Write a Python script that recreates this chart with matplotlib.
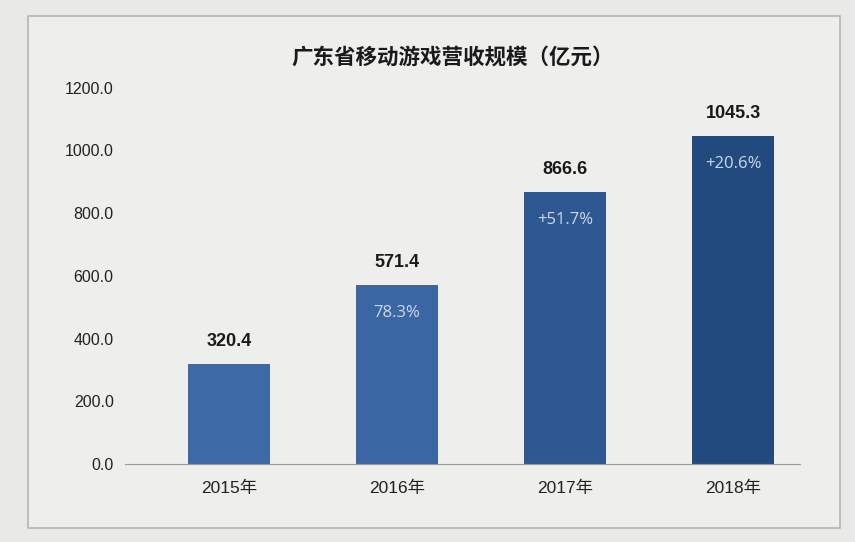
import numpy as np
import matplotlib.pyplot as plt
from matplotlib.patches import Rectangle

plt.rcParams['font.family'] = ['Liberation Sans', 'Noto Sans CJK SC', 'DejaVu Sans']
plt.rcParams['axes.unicode_minus'] = False

years = ['2015年', '2016年', '2017年', '2018年']
revenue = [320.4, 571.4, 866.6, 1045.3]
growth = ['', '78.3%', '+51.7%', '+20.6%']
bar_colors = ['#3d6aa6', '#3a67a3', '#2d5891', '#234a7f']

fig = plt.figure(figsize=(8.55, 5.42), dpi=100, facecolor='#e9e9e7')
# outer frame of the printed chart
fig.patches.append(Rectangle((0.033, 0.025), 0.95, 0.945, transform=fig.transFigure,
                             fill=True, facecolor='#eeeeec', edgecolor='#b5b5b5', linewidth=1.2, zorder=-10))

ax = fig.add_axes([0.146, 0.144, 0.79, 0.694])
ax.set_zorder(5)
ax.set_facecolor('none')
x = np.arange(len(years))
bars = ax.bar(x, revenue, width=0.49, color=bar_colors, zorder=2)

for xi, v, g in zip(x, revenue, growth):
    ax.annotate(f'{v:.1f}', (xi, v), xytext=(0, 10), textcoords='offset points',
                ha='center', va='bottom', fontsize=13, fontweight='bold', color='#1a1a1a')
    if g:
        ax.annotate(g, (xi, v), xytext=(0, -20), textcoords='offset points',
                    ha='center', va='center', fontsize=12, color='#cdd8e8',
                    family=['Open Sans', 'DejaVu Sans'])

ax.set_xlim(-0.62, 3.4)
ax.set_ylim(0, 1200)
ax.set_yticks(np.arange(0, 1201, 200))
ax.set_yticklabels([f'{t:.1f}' for t in np.arange(0, 1201, 200)], fontsize=11.5, color='#222222')
ax.set_xticks(x)
ax.set_xticklabels(years, fontsize=12.5, color='#222222')
ax.tick_params(axis='both', length=0, pad=8)
ax.tick_params(axis='x', pad=12)
for s in ['top', 'right', 'left']:
    ax.spines[s].set_visible(False)
ax.spines['bottom'].set_color('#9a9a9a')

fig.text(0.53, 0.895, '广东省移动游戏营收规模（亿元）', ha='center', va='center',
         fontsize=15.5, fontweight='bold', color='#1a1a1a', family=['Noto Sans CJK SC'])

plt.savefig('out.png', dpi=100, facecolor=fig.get_facecolor())
